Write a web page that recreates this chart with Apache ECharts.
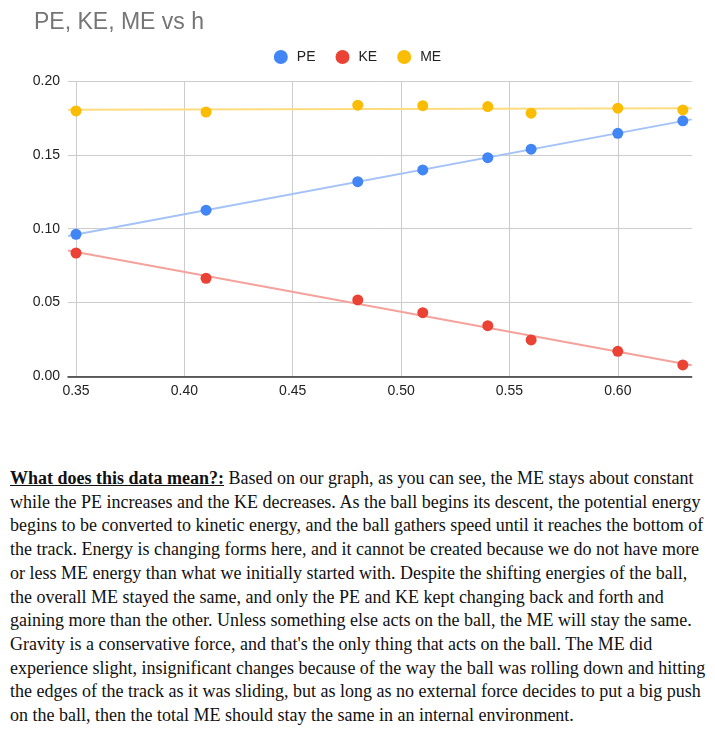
<!DOCTYPE html>
<html><head><meta charset="utf-8">
<script src="https://cdn.jsdelivr.net/npm/echarts@6/dist/echarts.min.js"></script>
<style>
html,body{margin:0;padding:0;background:#fff;width:715px;height:735px;overflow:hidden;}
#chart{position:absolute;left:0;top:0;width:715px;height:440px;}
#text{position:absolute;left:10px;top:467px;width:705px;font-family:'Liberation Serif','Times New Roman',serif;font-size:18px;line-height:23.7px;color:#111;white-space:nowrap;}
#text b{text-decoration:underline;}
</style></head><body>
<div id="chart"></div>
<div id="text"><b>What does this data mean?:</b> Based on our graph, as you can see, the ME stays about constant<br>while the PE increases and the KE decreases. As the ball begins its descent, the potential energy<br>begins to be converted to kinetic energy, and the ball gathers speed until it reaches the bottom of<br>the track. Energy is changing forms here, and it cannot be created because we do not have more<br>or less ME energy than what we initially started with. Despite the shifting energies of the ball,<br>the overall ME stayed the same, and only the PE and KE kept changing back and forth and<br>gaining more than the other. Unless something else acts on the ball, the ME will stay the same.<br>Gravity is a conservative force, and that's the only thing that acts on the ball. The ME did<br>experience slight, insignificant changes because of the way the ball was rolling down and hitting<br>the edges of the track as it was sliding, but as long as no external force decides to put a big push<br>on the ball, then the total ME should stay the same in an internal environment.</div>
<script>
const h  = [0.35, 0.41, 0.48, 0.51, 0.54, 0.56, 0.60, 0.63];
const PE = [0.0962, 0.1125, 0.1318, 0.1398, 0.1481, 0.1538, 0.1646, 0.1730];
const KE = [0.0835, 0.0664, 0.0517, 0.0431, 0.0343, 0.0246, 0.0169, 0.0077];
const ME = [0.1797, 0.1790, 0.1836, 0.1833, 0.1827, 0.1782, 0.1816, 0.1804];
const xTicks = [0.35, 0.40, 0.45, 0.50, 0.55, 0.60];
const seriesNames = ['PE', 'KE', 'ME'];
const colors = ['#4285F4', '#EA4335', '#FBBC04'];
const trendColors = ['#A4C2F8', '#F4A29B', '#FDDC80'];
const X_MIN = 0.3463, X_MAX = 0.6341;
const FONT = '"Liberation Sans", Arial, sans-serif';

function pairs(ys) { return h.map((x, i) => [x, ys[i]]); }
function trend(ys) {
  const n = h.length;
  const mx = h.reduce((a, b) => a + b, 0) / n;
  const my = ys.reduce((a, b) => a + b, 0) / n;
  let sxy = 0, sxx = 0;
  for (let i = 0; i < n; i++) { sxy += (h[i] - mx) * (ys[i] - my); sxx += (h[i] - mx) ** 2; }
  const b = sxy / sxx, a = my - b * mx;
  return [[X_MIN, a + b * X_MIN], [X_MAX, a + b * X_MAX]];
}
const allData = [PE, KE, ME];
const series = [];
allData.forEach((ys, i) => {
  series.push({
    name: seriesNames[i] + ' trend', type: 'line', data: trend(ys), symbol: 'none', silent: true,
    lineStyle: { color: trendColors[i], width: 2 }, z: 1
  });
});
allData.forEach((ys, i) => {
  series.push({
    name: seriesNames[i], type: 'scatter', data: pairs(ys), symbolSize: 11,
    itemStyle: { color: colors[i], opacity: 1 }, z: 3
  });
});

const chart = echarts.init(document.getElementById('chart'), null, { renderer: 'canvas' });
chart.setOption({
  animation: false,
  backgroundColor: '#fff',
  title: {
    text: 'PE, KE, ME vs h', left: 29, top: 6,
    textStyle: { fontFamily: FONT, fontSize: 23, fontWeight: 'normal', color: '#757575' }
  },
  legend: {
    data: seriesNames.map(n => ({ name: n, icon: 'circle' })),
    top: 45, left: 'center', itemWidth: 14, itemHeight: 14, itemGap: 20,
    textStyle: { fontFamily: FONT, fontSize: 14, color: '#222', padding: [0, 0, 0, 4] }
  },
  grid: { left: 68, right: 23.3, top: 81, bottom: 63.7 },
  xAxis: {
    type: 'value', min: X_MIN, max: X_MAX,
    axisLine: { show: true, lineStyle: { color: '#333', width: 1.5 } },
    axisTick: { show: false, customValues: xTicks },
    axisLabel: { customValues: xTicks, formatter: v => v.toFixed(2), margin: 8, color: '#222', fontFamily: FONT, fontSize: 14 },
    splitLine: { show: true, lineStyle: { color: '#cccccc', width: 1 } }
  },
  yAxis: {
    type: 'value', min: 0, max: 0.2, interval: 0.05,
    axisLine: { show: false }, axisTick: { show: false },
    axisLabel: { formatter: v => v.toFixed(2), margin: 8, color: '#222', fontFamily: FONT, fontSize: 14 },
    splitLine: { show: true, lineStyle: { color: '#cccccc', width: 1 } }
  },
  series: series
});
</script>
</body></html>
